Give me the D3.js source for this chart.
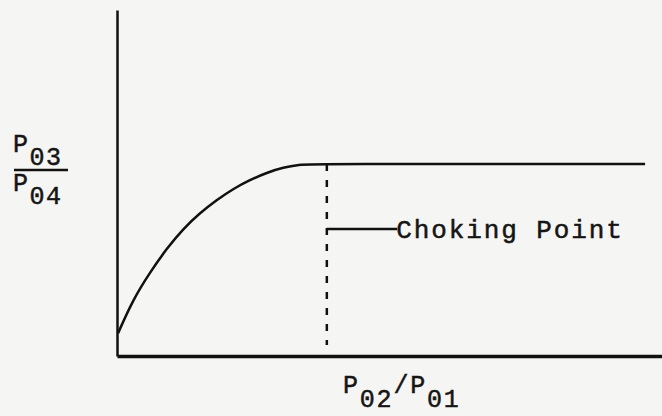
<!DOCTYPE html>
<html>
<head>
<meta charset="utf-8">
<script src="https://cdn.jsdelivr.net/npm/d3@7"></script>
<style>
    body { margin: 0; background: #f5f5f3; }
    svg { display: block; }
    text { font-family: "Liberation Mono", "DejaVu Sans Mono", monospace; fill: #151515; stroke: #151515; stroke-width: 0.5; }
</style>
</head>
<body>
<div id="chart"></div>
<script>
// curve P03/P04 vs P02/P01, arbitrary units (0..100 both ways)
const curveX = [0.2, 2.9, 6.1, 9.2, 12.1, 15.2, 18.3, 21.3, 24.4, 27.5, 30.5, 33.6, 35.4, 96.9];
const curveY = [6.6, 16.2, 24.3, 31.2, 36.7, 41.3, 45.1, 48.3, 50.9, 53.0, 54.5, 55.3, 55.5, 55.5];

const chokeX = 38.5;
const chokeY = [3.2, 55.5];
const leaderY = 36.7;
const leaderX = [38.5, 51.4];
const chokeLabel = 'Choking Point';

const xLabel = [['P', '02'], ['/P', '01']];
const yLabelTop = ['P', '03'];
const yLabelBottom = ['P', '04'];

const width = 662, height = 416;
const margin = {top: 10, right: 0, bottom: 60, left: 117};
const w = width - margin.left - margin.right;
const h = height - margin.top - margin.bottom;

const x = d3.scaleLinear().domain([0, 100]).range([0, w]);
const y = d3.scaleLinear().domain([0, 100]).range([h, 0]);

const svg = d3.select('#chart').append('svg')
    .attr('width', width)
    .attr('height', height);

const g = svg.append('g')
    .attr('transform', 'translate(' + margin.left + ',' + margin.top + ')');

// axes: plain lines, no ticks
const xAxis = d3.axisBottom(x).tickValues([]).tickSizeOuter(0);
const yAxis = d3.axisLeft(y).tickValues([]).tickSizeOuter(0);

g.append('g')
    .attr('transform', 'translate(0,' + h + ')')
    .call(xAxis)
    .select('.domain')
    .attr('stroke', '#111')
    .attr('stroke-width', 3.5);

g.append('g')
    .call(yAxis)
    .select('.domain')
    .attr('stroke', '#111')
    .attr('stroke-width', 2.5);

const line = d3.line()
    .x(d => x(d[0]))
    .y(d => y(d[1]))
    .curve(d3.curveBasis);

g.append('path')
    .datum(d3.zip(curveX, curveY))
    .attr('fill', 'none')
    .attr('stroke', '#111')
    .attr('stroke-width', 2.5)
    .attr('d', line);

// choking point marker
g.append('line')
    .attr('x1', x(chokeX)).attr('x2', x(chokeX))
    .attr('y1', y(chokeY[1])).attr('y2', y(chokeY[0]))
    .attr('stroke', '#111')
    .attr('stroke-width', 2.5)
    .attr('stroke-dasharray', '7,9');

g.append('line')
    .attr('x1', x(leaderX[0])).attr('x2', x(leaderX[1]))
    .attr('y1', y(leaderY)).attr('y2', y(leaderY))
    .attr('stroke', '#111')
    .attr('stroke-width', 2.5);

g.append('text')
    .attr('x', x(leaderX[1]) - 1)
    .attr('y', y(leaderY) + 9)
    .attr('font-size', 26)
    .attr('letter-spacing', 1.9)
    .text(chokeLabel);

// x label with subscripts
const xl = svg.append('text')
    .attr('x', 343)
    .attr('y', 393)
    .attr('font-size', 25)
    .attr('letter-spacing', 1.8);
xl.append('tspan').text(xLabel[0][0]);
xl.append('tspan').attr('dy', 14).text(xLabel[0][1]);
xl.append('tspan').attr('dy', -14).text(xLabel[1][0]);
xl.append('tspan').attr('dy', 14).text(xLabel[1][1]);

// y label as a fraction
function fraction(parts, base) {
    const t = svg.append('text')
        .attr('x', 13)
        .attr('y', base)
        .attr('font-size', 25)
        .attr('letter-spacing', 1.5);
    t.append('tspan').text(parts[0]);
    t.append('tspan').attr('dy', 13).text(parts[1]);
}
fraction(yLabelTop, 152);
fraction(yLabelBottom, 191);

svg.append('line')
    .attr('x1', 14).attr('x2', 68)
    .attr('y1', 170).attr('y2', 170)
    .attr('stroke', '#111')
    .attr('stroke-width', 2.5);
</script>
</body>
</html>
